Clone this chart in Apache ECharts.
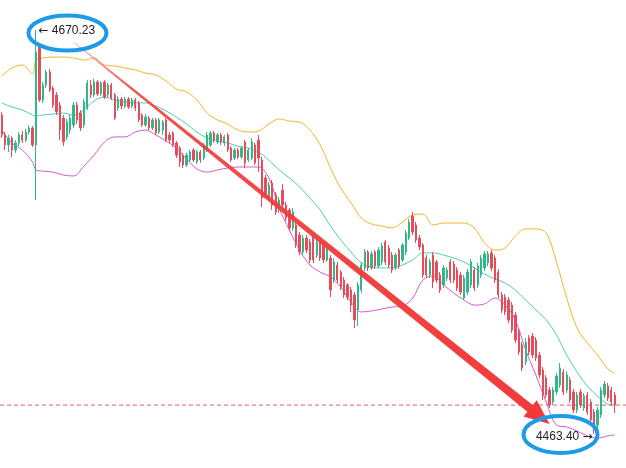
<!DOCTYPE html>
<html><head><meta charset="utf-8">
<script src="https://cdn.jsdelivr.net/npm/echarts@6/dist/echarts.min.js"></script>
<style>html,body{margin:0;padding:0;background:#fff}#c{width:626px;height:468px}</style>
</head><body><div id="c"></div>
<script>
const opens = [4626.7,4616.5,4611.4,4614.9,4608.8,4612.4,4616.5,4613.9,4618.0,4620.1,4611.4,4661.5,4634.4,4642.1,4648.7,4640.5,4637.0,4631.8,4625.2,4615.5,4619.0,4621.6,4631.8,4627.7,4621.6,4630.3,4642.1,4637.0,4643.6,4637.5,4643.6,4637.0,4642.1,4637.0,4630.3,4634.9,4631.3,4634.9,4631.3,4634.4,4632.9,4626.7,4621.6,4625.2,4620.1,4624.2,4618.0,4619.0,4624.2,4616.5,4617.5,4612.4,4609.8,4606.2,4601.1,4603.7,4608.8,4602.7,4607.8,4604.7,4608.8,4611.4,4617.5,4612.9,4616.5,4612.4,4616.5,4609.8,4604.7,4608.8,4605.2,4612.9,4603.7,4604.7,4611.4,4613.9,4603.7,4594.5,4584.7,4591.9,4585.8,4578.1,4588.3,4580.6,4578.1,4568.9,4570.4,4565.3,4556.6,4563.7,4561.7,4564.3,4555.0,4561.7,4560.2,4552.5,4553.5,4542.2,4549.9,4546.3,4542.2,4539.7,4537.1,4534.6,4526.9,4537.1,4548.4,4556.6,4548.4,4556.6,4549.4,4551.5,4561.7,4558.6,4555.0,4548.4,4557.6,4552.5,4556.6,4563.7,4575.0,4570.4,4563.7,4560.2,4553.5,4544.8,4555.0,4551.5,4544.8,4539.7,4543.3,4551.5,4550.4,4547.4,4544.8,4533.0,4536.1,4539.7,4547.4,4539.7,4544.8,4548.4,4551.0,4556.1,4553.5,4546.3,4534.6,4533.5,4532.0,4529.4,4524.3,4515.6,4509.0,4500.3,4512.5,4513.6,4511.5,4503.8,4496.2,4492.1,4485.9,4479.8,4484.9,4488.5,4495.1,4485.9,4491.0,4484.9,4475.7,4484.9,4476.7,4483.4,4479.8,4474.7,4468.0,4473.1,4483.4,4488.0,4485.9,4483.4];
const closes = [4616.5,4611.4,4614.9,4608.8,4612.4,4616.5,4613.9,4618.0,4620.1,4611.4,4659.0,4634.4,4642.1,4648.7,4639.5,4631.8,4628.3,4619.0,4612.9,4623.1,4625.2,4631.8,4624.2,4620.1,4633.4,4643.1,4637.0,4643.6,4637.5,4643.1,4635.9,4642.1,4635.4,4625.2,4634.9,4631.3,4634.9,4630.8,4634.4,4630.3,4624.2,4621.6,4625.7,4620.1,4624.2,4617.5,4624.2,4623.1,4613.9,4613.9,4611.4,4606.2,4602.7,4601.1,4606.2,4607.8,4603.7,4607.8,4603.7,4611.4,4616.5,4617.5,4613.9,4616.5,4612.9,4615.5,4608.8,4603.7,4608.8,4605.2,4609.8,4602.2,4608.8,4612.9,4602.2,4604.7,4584.2,4585.8,4590.9,4580.6,4577.1,4583.2,4580.6,4574.0,4568.9,4577.1,4560.2,4556.6,4563.7,4557.6,4552.5,4552.5,4561.7,4553.5,4552.5,4558.6,4537.1,4551.5,4542.2,4538.7,4534.6,4533.5,4529.4,4521.8,4539.7,4549.9,4556.6,4548.4,4555.6,4549.4,4557.6,4559.6,4551.5,4549.9,4547.4,4555.0,4549.4,4560.2,4566.3,4571.9,4566.8,4562.7,4559.1,4544.8,4544.8,4551.5,4541.2,4542.2,4537.1,4548.4,4547.4,4542.2,4542.2,4538.1,4536.1,4543.3,4546.3,4551.5,4538.1,4549.4,4553.5,4555.6,4555.6,4548.4,4542.2,4534.6,4526.9,4525.9,4521.8,4516.6,4511.5,4505.4,4497.2,4510.5,4505.4,4503.8,4502.3,4493.6,4483.4,4483.4,4478.2,4485.9,4493.1,4497.2,4484.9,4493.6,4480.8,4475.7,4483.4,4478.2,4482.8,4474.7,4470.6,4466.5,4475.7,4485.9,4489.0,4481.8,4479.8,4478.2];
const lows = [4614.9,4608.8,4607.8,4605.2,4607.3,4610.8,4612.4,4612.9,4616.5,4610.3,4583.2,4633.4,4632.9,4640.5,4638.5,4630.3,4626.7,4613.9,4610.8,4613.9,4617.0,4620.1,4622.1,4618.5,4620.1,4629.3,4635.4,4635.9,4636.5,4636.5,4634.9,4635.9,4634.4,4624.2,4628.8,4629.8,4630.3,4629.8,4630.3,4628.8,4623.1,4620.6,4620.6,4619.0,4619.0,4616.5,4617.0,4616.5,4612.9,4612.4,4610.3,4604.7,4600.1,4599.6,4600.1,4602.7,4602.7,4601.6,4602.2,4603.7,4607.8,4610.3,4612.4,4611.9,4611.4,4610.8,4607.8,4602.7,4603.7,4604.2,4604.2,4599.6,4602.7,4603.7,4601.1,4597.5,4579.6,4584.2,4583.2,4578.1,4575.5,4576.5,4579.1,4572.4,4567.3,4567.3,4558.6,4555.0,4555.0,4556.1,4550.9,4550.9,4553.5,4552.0,4550.9,4551.5,4533.5,4540.7,4540.7,4537.1,4533.0,4532.0,4525.9,4517.7,4518.7,4535.6,4546.8,4546.8,4547.4,4547.9,4548.4,4549.9,4549.9,4548.4,4545.8,4547.4,4547.9,4551.5,4555.0,4562.7,4565.3,4561.2,4557.6,4543.3,4543.3,4543.3,4538.1,4540.7,4535.6,4538.1,4541.7,4540.7,4540.7,4536.6,4534.6,4532.0,4534.6,4538.1,4536.6,4538.1,4543.3,4546.8,4549.4,4546.8,4540.7,4533.0,4525.3,4524.3,4520.2,4515.1,4510.0,4503.8,4495.6,4498.7,4503.8,4502.3,4500.8,4492.1,4480.8,4481.8,4476.7,4478.2,4483.4,4487.0,4483.4,4484.4,4479.3,4474.1,4474.1,4476.7,4475.2,4473.1,4469.0,4463.40,4466.5,4471.6,4481.8,4480.3,4478.2,4474.1];
const highs = [4628.3,4618.0,4616.5,4616.0,4613.9,4618.0,4618.5,4619.6,4621.6,4621.1,4670.23,4662.6,4643.6,4649.8,4650.3,4641.6,4638.5,4633.4,4626.7,4624.7,4626.7,4633.4,4633.4,4629.3,4634.9,4644.6,4644.6,4645.2,4644.6,4644.1,4644.6,4643.1,4643.1,4638.0,4636.4,4635.9,4635.9,4635.9,4635.4,4635.4,4633.9,4627.7,4627.2,4626.2,4625.2,4625.2,4625.2,4624.2,4625.2,4618.0,4618.5,4613.4,4610.8,4607.3,4607.3,4608.8,4609.8,4608.8,4608.8,4612.4,4618.0,4618.5,4618.5,4617.5,4617.5,4616.5,4617.5,4610.8,4609.8,4609.8,4610.8,4613.9,4609.8,4614.9,4612.4,4616.5,4605.2,4596.0,4592.4,4593.4,4587.3,4584.7,4591.4,4582.2,4579.1,4579.1,4571.9,4566.8,4565.3,4565.3,4563.2,4565.3,4563.2,4562.7,4561.2,4560.2,4555.0,4553.5,4551.5,4547.4,4543.8,4540.7,4538.7,4536.1,4541.2,4551.5,4558.1,4557.6,4557.1,4557.6,4559.1,4561.2,4562.7,4560.2,4556.6,4556.1,4558.6,4561.2,4567.8,4573.5,4577.1,4571.9,4565.3,4561.2,4555.0,4553.0,4556.6,4552.5,4546.3,4549.9,4548.9,4553.0,4552.0,4548.9,4546.3,4544.8,4547.9,4553.0,4548.9,4550.9,4555.0,4557.1,4557.1,4557.6,4555.0,4547.9,4536.1,4535.1,4533.5,4531.0,4525.9,4517.2,4510.5,4512.5,4514.1,4515.1,4513.1,4505.4,4497.7,4493.6,4487.5,4487.5,4494.6,4499.7,4496.7,4495.6,4492.6,4486.4,4484.9,4486.4,4484.4,4484.9,4481.3,4476.2,4477.2,4487.5,4490.5,4489.5,4487.5,4484.9];

const bandIdx = [0,3,6,9,10,12,15,18,21,24,27,30,33,36,39,42,45,48,51,54,57,60,63,66,69,72,75,78,81,84,87,90,93,96,99,102,105,108,111,114,117,120,123,126,129,132,135,138,141,144,147,150,153,156,159,162,165,168,171,174,177,179];
const upperBand = [4646.7,4650.8,4652.3,4647.7,4654.9,4655.9,4656.4,4656.4,4655.9,4654.9,4655.9,4652.3,4651.8,4650.8,4649.8,4648.2,4647.2,4644.1,4640.0,4638.5,4634.4,4627.7,4624.2,4622.1,4619.0,4618.0,4618.5,4622.1,4624.7,4623.6,4623.1,4619.0,4611.4,4599.6,4589.3,4581.7,4574.0,4570.9,4569.9,4568.9,4571.9,4575.5,4576.0,4570.4,4571.4,4571.4,4571.4,4568.9,4561.2,4557.6,4558.6,4564.8,4568.4,4568.4,4566.3,4551.5,4533.0,4517.7,4510.0,4503.8,4496.7,4494.6];
const middleBand = [4632.9,4630.8,4629.3,4626.7,4626.2,4626.7,4627.2,4627.7,4626.7,4629.3,4633.9,4635.9,4634.4,4633.4,4632.9,4632.9,4631.3,4628.8,4625.7,4622.1,4618.0,4614.9,4613.4,4612.4,4610.8,4609.8,4607.8,4603.7,4598.6,4594.5,4589.9,4584.2,4578.1,4569.9,4562.7,4556.6,4551.0,4548.9,4548.4,4548.4,4549.9,4552.5,4556.1,4556.1,4555.0,4553.5,4551.5,4548.4,4545.3,4542.8,4540.7,4537.1,4532.0,4526.9,4521.8,4514.1,4503.8,4495.1,4488.0,4482.8,4478.7,4478.2];
const lowerBand = [4619.0,4612.4,4608.8,4602.7,4598.6,4598.0,4597.5,4596.0,4595.5,4600.6,4606.2,4612.9,4615.5,4615.5,4618.0,4619.0,4616.5,4613.4,4609.8,4604.2,4599.1,4597.5,4598.6,4599.6,4600.1,4600.1,4600.1,4594.5,4579.1,4567.8,4557.6,4549.9,4546.3,4543.8,4538.7,4531.0,4525.9,4526.4,4527.4,4528.4,4528.9,4533.0,4542.2,4544.3,4539.7,4535.6,4532.0,4529.4,4530.0,4533.0,4529.4,4521.8,4506.4,4493.6,4479.8,4468.0,4467.0,4464.9,4462.4,4461.3,4462.4,4462.9];

const highPoint = [10, 4670.23];
const lowPoint = [173, 4463.40];
const lastPrice = 4478.2;
const arrowFrom = [21, 4664.1];
const arrowTo = [160, 4468.5];

const categories = opens.map((_, i) => i);
const candles = opens.map((o, i) => [o, closes[i], lows[i], highs[i]]);
const band = arr => bandIdx.map((k, j) => [k, arr[j]]);

const UP = '#2fb889', DOWN = '#e64d5b';
const chart = echarts.init(document.getElementById('c'), null, {renderer: 'canvas'});
const lineS = (name, arr, color) => ({
  name, type: 'line', data: band(arr), smooth: 0.35, showSymbol: false, silent: true,
  lineStyle: {width: 1, color}, z: 1
});
const labelRich = {
  n: {color: '#222', fontSize: 12, fontFamily: 'Liberation Sans, Arial, sans-serif'},
  a: {color: '#222', fontSize: 12, fontFamily: 'DejaVu Sans, sans-serif'}
};
chart.setOption({
  animation: false,
  backgroundColor: '#ffffff',
  grid: {left: -1, right: 9.6, top: 0, bottom: 0},
  xAxis: {type: 'category', data: categories, boundaryGap: true, show: false},
  yAxis: {type: 'value', min: 4445.99, max: 4685.6, show: false, splitLine: {show: false}},
  series: [
    lineS('upper', upperBand, '#f4b52c'),
    lineS('middle', middleBand, '#4dcfae'),
    lineS('lower', lowerBand, '#d35ccf'),
    {
      name: 'price', type: 'candlestick', data: candles, barWidth: 1.8, z: 3,
      itemStyle: {color: UP, color0: DOWN, borderColor: UP, borderColor0: DOWN, borderWidth: 1},
      markPoint: {
        symbol: 'circle', symbolSize: 1, silent: true,
        itemStyle: {color: 'rgba(0,0,0,0)'},
        label: {show: true, rich: labelRich},
        data: [
          {coord: highPoint, label: {position: 'right', distance: 2, offset: [0, 1],
            formatter: '{a|\u2190} {n|' + highPoint[1].toFixed(2) + '}'}},
          {coord: lowPoint, label: {position: 'left', distance: 1, offset: [0, 3],
            formatter: '{n|' + lowPoint[1].toFixed(2) + '} {a|\u2192}'}}
        ]
      }
    }
  ]
});

const px = p => chart.convertToPixel({gridIndex: 0}, p);
const hp = px(highPoint), lp = px(lowPoint), a0 = px(arrowFrom), a1 = px(arrowTo);
const yLast = px([0, lastPrice])[1];
const dx = a1[0] - a0[0], dy = a1[1] - a0[1], len = Math.hypot(dx, dy);
const ux = dx / len, uy = dy / len, nx = -uy, ny = ux;
const headLen = 25, headHalf = 10.5;
const back = [a1[0] - ux * headLen, a1[1] - uy * headLen];
const sEnd = [a1[0] - ux * headLen * 0.7, a1[1] - uy * headLen * 0.7];
const w0 = 0.7, w1 = 4.4;
const grad = {type: 'linear', x: a0[0], y: a0[1], x2: a1[0], y2: a1[1], global: true,
  colorStops: [{offset: 0, color: 'rgba(240,70,70,0.25)'}, {offset: 0.12, color: 'rgba(240,60,60,0.9)'}, {offset: 1, color: '#f03a3a'}]};
chart.setOption({
  graphic: [
    {type: 'line', z: 2, shape: {x1: 0, y1: yLast, x2: 626, y2: yLast},
     style: {stroke: '#de5a7a', lineWidth: 1, lineDash: [4, 3]}},
    {type: 'polygon', z: 10, shape: {points: [
      [a0[0] + nx * w0, a0[1] + ny * w0], [sEnd[0] + nx * w1, sEnd[1] + ny * w1],
      [sEnd[0] - nx * w1, sEnd[1] - ny * w1], [a0[0] - nx * w0, a0[1] - ny * w0]]},
     style: {fill: grad}},
    {type: 'polygon', z: 10, shape: {points: [
      [a1[0], a1[1]], [back[0] + nx * headHalf, back[1] + ny * headHalf], [back[0] - nx * headHalf, back[1] - ny * headHalf]]},
     style: {fill: '#f03a3a'}},
    {type: 'ellipse', z: 11, shape: {cx: hp[0] + 31.5, cy: hp[1] + 3, rx: 39, ry: 17.5},
     style: {fill: null, stroke: '#1d9be8', lineWidth: 4}},
    {type: 'ellipse', z: 11, shape: {cx: lp[0] - 33.6, cy: lp[1] + 0.5, rx: 37, ry: 18.5},
     style: {fill: null, stroke: '#1d9be8', lineWidth: 4}}
  ]
});
</script>
</body></html>
